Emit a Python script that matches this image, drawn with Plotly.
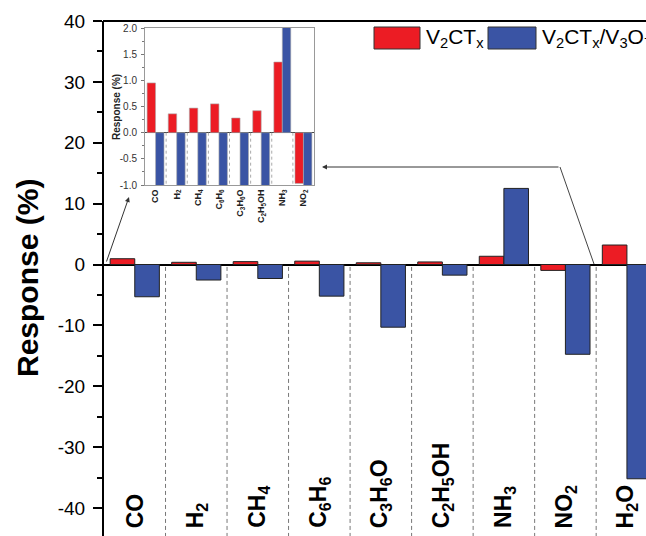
import plotly.graph_objects as go

# ---------------- data ----------------
categories = ["CO", "H2", "CH4", "C6H6", "C3H6O", "C2H5OH", "NH3", "NO2", "H2O"]
cat_labels = ["CO", "H<sub>2</sub>", "CH<sub>4</sub>", "C<sub>6</sub>H<sub>6</sub>",
              "C<sub>3</sub>H<sub>6</sub>O", "C<sub>2</sub>H<sub>5</sub>OH",
              "NH<sub>3</sub>", "NO<sub>2</sub>", "H<sub>2</sub>O"]
v2ctx = [0.95, 0.36, 0.47, 0.55, 0.28, 0.42, 1.35, -0.97, 3.2]
v2ctx_v3o7 = [-5.3, -2.55, -2.3, -5.2, -10.3, -1.75, 12.5, -14.75, -35.2]

main_ticks = [-40, -30, -20, -10, 0, 10, 20, 30, 40]
main_ticktext = ["-40", "-30", "-20", "-10", "0", "10", "20", "30", "40"]
main_minor = [-35, -25, -15, -5, 5, 15, 25, 35]
inset_ticks = [-1.0, -0.5, 0.0, 0.5, 1.0, 1.5, 2.0]
inset_ticktext = ["-1.0", "-0.5", "0.0", "0.5", "1.0", "1.5", "2.0"]
inset_minor = [-0.75, -0.25, 0.25, 0.75, 1.25, 1.75]
n_inset = 8

# ---------------- styling ----------------
W, H = 646, 536
def px(x): return x / W
def py(y): return (H - y) / H

RED = "#EC1C24"
BLUE = "#3A54A4"
FONT = "Arial, Liberation Sans, Helvetica, sans-serif"

fig = go.Figure()
fig.add_bar(x=categories, y=v2ctx, name="V2CTx", xaxis="x", yaxis="y",
            marker=dict(color=RED, line=dict(color="#222", width=1)))
fig.add_bar(x=categories, y=v2ctx_v3o7, name="V2CTx/V3O7", xaxis="x", yaxis="y",
            marker=dict(color=BLUE, line=dict(color="#222", width=1)))
fig.add_bar(x=categories[:n_inset], y=v2ctx[:n_inset], xaxis="x2", yaxis="y2",
            marker=dict(color=RED, line=dict(color="#aaa", width=0.6)), showlegend=False)
fig.add_bar(x=categories[:n_inset], y=v2ctx_v3o7[:n_inset], xaxis="x2", yaxis="y2",
            marker=dict(color=BLUE, line=dict(color="#aaa", width=0.6)), showlegend=False)

shapes = []
# top frame line
shapes.append(dict(type="line", xref="paper", yref="paper", x0=px(103), x1=1.02,
                   y0=py(21), y1=py(21), line=dict(color="black", width=2)))
# main dashed separators
for i in range(len(categories) - 1):
    shapes.append(dict(type="line", xref="x", yref="y", x0=i + 0.5, x1=i + 0.5,
                       y0=-0.4, y1=-44.6, line=dict(color="#777", width=1, dash="4px,3px")))
# inset dotted separators
for i in range(n_inset - 1):
    shapes.append(dict(type="line", xref="x2", yref="y2", x0=i + 0.5, x1=i + 0.5,
                       y0=0, y1=-1, line=dict(color="#aaa", width=1, dash="dot")))
# arrow line segment
shapes.append(dict(type="line", xref="paper", yref="paper", x0=px(594), y0=py(264),
                   x1=px(560), y1=py(167), line=dict(color="#444", width=1)))
# legend boxes
shapes.append(dict(type="rect", xref="paper", yref="paper", x0=px(374), x1=px(420),
                   y0=py(49), y1=py(27), fillcolor=RED, line=dict(color="#333", width=1)))
shapes.append(dict(type="rect", xref="paper", yref="paper", x0=px(488), x1=px(536),
                   y0=py(49), y1=py(27), fillcolor=BLUE, line=dict(color="#333", width=1)))

ann = []
ann.append(dict(text="<b>Response (%)</b>", xref="paper", yref="paper", x=px(27), y=py(278),
                xanchor="center", yanchor="middle",
                textangle=-90, showarrow=False, font=dict(size=30, color="black", family=FONT)))
ann.append(dict(text="<b>Response (%)</b>", xref="paper", yref="paper", x=px(116), y=py(107),
                xanchor="center", yanchor="middle",
                textangle=-90, showarrow=False, font=dict(size=10, color="#222", family=FONT)))
for c, lab in zip(categories, cat_labels):
    ann.append(dict(text="<b>" + lab + "</b>", xref="x", yref="paper", x=c, y=py(530),
                    xanchor="center", yanchor="bottom", textangle=-90, showarrow=False,
                    font=dict(size=23, color="black", family=FONT)))
ann.append(dict(text="", xref="paper", yref="paper", x=px(129), y=py(197), ax=-23, ay=66,
                showarrow=True, arrowhead=2, arrowsize=1, arrowwidth=1, arrowcolor="#333"))
ann.append(dict(text="", xref="paper", yref="paper", x=px(322), y=py(167), ax=238, ay=0,
                showarrow=True, arrowhead=2, arrowsize=1, arrowwidth=1, arrowcolor="#333"))
ann.append(dict(text="V<sub>2</sub>CT<sub>x</sub>", xref="paper", yref="paper", x=px(424), y=py(38),
                xanchor="left", yanchor="middle", showarrow=False,
                font=dict(size=21, color="black", family=FONT)))
ann.append(dict(text="V<sub>2</sub>CT<sub>x</sub>/V<sub>3</sub>O<sub>7</sub>", xref="paper", yref="paper",
                x=px(540), y=py(38), xanchor="left", yanchor="middle", showarrow=False,
                font=dict(size=21, color="black", family=FONT)))

fig.update_layout(
    width=W, height=H, margin=dict(l=0, r=0, t=0, b=0),
    paper_bgcolor="white", plot_bgcolor="white",
    barmode="group", bargap=0.2, bargroupgap=0, showlegend=False,
    font=dict(family=FONT, color="black"),
    xaxis=dict(domain=[px(104), 1], range=[-0.5, 8.31], showticklabels=False, ticks="",
               showline=False, showgrid=False, zeroline=False, automargin=False),
    yaxis=dict(domain=[0, py(21)], range=[-44.6, 40], tickmode="array", tickvals=main_ticks,
               ticktext=main_ticktext, ticks="outside", ticklen=9, tickwidth=2, tickcolor="black",
               showline=True, linewidth=2, linecolor="black", showgrid=False,
               zeroline=True, zerolinecolor="black", zerolinewidth=1.5,
               tickfont=dict(size=19, color="black", family=FONT), ticklabelstandoff=4,
               minor=dict(tickmode="array", tickvals=main_minor, ticks="outside", ticklen=5,
                          tickwidth=1.5, tickcolor="black", showgrid=False),
               automargin=False),
    xaxis2=dict(domain=[px(145), px(314)], anchor="y2", range=[-0.5, 7.5],
                tickmode="array", tickvals=categories[:n_inset],
                ticktext=["<b>" + l + "</b>" for l in cat_labels[:n_inset]],
                tickangle=-90, tickfont=dict(size=9, color="#222", family=FONT),
                ticks="", showline=True, mirror=True, linecolor="#999", linewidth=1,
                showgrid=False, zeroline=False, automargin=False),
    yaxis2=dict(domain=[py(185), py(28)], anchor="x2", range=[-1, 2], tickmode="array",
                tickvals=inset_ticks, ticktext=inset_ticktext, ticks="outside", ticklen=3,
                tickwidth=1, tickcolor="#777", showline=True, mirror=True, linecolor="#999",
                linewidth=1, showgrid=False, zeroline=True, zerolinecolor="#444", zerolinewidth=1,
                tickfont=dict(size=10, color="#333", family=FONT), ticklabelstandoff=2,
                minor=dict(tickmode="array", tickvals=inset_minor, ticks="outside", ticklen=2,
                           tickwidth=1, tickcolor="#777", showgrid=False),
                automargin=False),
    shapes=shapes, annotations=ann,
)

fig.write_html("out.html")
